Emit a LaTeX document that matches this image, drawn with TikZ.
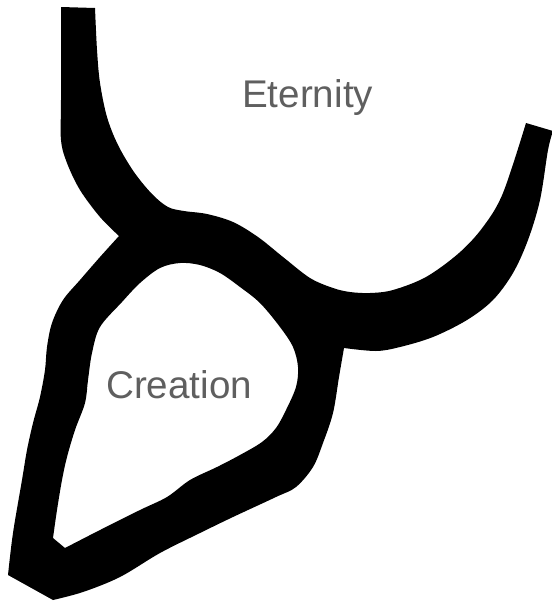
\documentclass[tikz,border=0pt]{standalone}
\usepackage{fontspec}
\setmainfont{Liberation Sans}
\definecolor{labelgray}{RGB}{95,95,95}
\begin{document}
\begin{tikzpicture}[x=1pt,y=-1pt,
  shapefill/.style={fill=black,even odd rule},
  label/.style={text=labelgray,font=\fontsize{38.6}{41}\selectfont,inner sep=0pt}]
\useasboundingbox (0,0) rectangle (552,603);
\fill[shapefill]
  (61,7) -- (95,8)
  -- plot[smooth,tension=0.55] coordinates {(95,8) (97,50) (100,83) (107,117) (118,145) (134,172) (152,194) (168,207) (184,211) (207,214) (233,222) (258,237) (283,257) (310,278) (333,288) (350,292) (370,293) (393,290) (426,277) (459,253) (483,227) (503,193) (526,123)}
  -- (553,131)
  -- plot[smooth,tension=0.55] coordinates {(553,131) (548,150) (540,200) (528,240) (513,273) (493,300) (467,320) (433,337) (400,347) (376,351) (344,348)}
  -- plot[smooth,tension=0.55] coordinates {(344,348) (339,377) (333,413) (323,443) (313,467) (296,487) (276,497) (233,517) (200,533) (160,553) (120,577) (83,592) (53,600)}
  -- (8,575)
  -- plot[smooth,tension=0.55] coordinates {(8,575) (13,533) (22,480) (27,450) (33,423) (40,397) (45,370) (47,347) (52,323) (63,300) (80,280) (100,257) (119,236)}
  -- plot[smooth,tension=0.55] coordinates {(119,236) (100,217) (80,190) (67,163) (61,140) (61,100) (61,7)}
  -- cycle
  (65,548)
  -- plot[smooth,tension=0.55] coordinates {(65,548) (100,530) (140,510) (167,497) (190,480) (217,467) (240,455) (262,442) (276,428) (286,410) (296,387) (298,367) (293,347) (280,327) (260,303) (240,287) (220,273) (200,265) (180,263) (160,268) (140,283) (122,302) (100,327) (92,353) (88,380) (85,403) (75,430) (67,457) (62,480) (57,510) (53,538)}
  -- cycle;
\node[label,anchor=base west] (eternity) at (242,107) {Eternity};
\node[label,anchor=base west] (creation) at (106,398) {Creation};
\end{tikzpicture}
\end{document}
